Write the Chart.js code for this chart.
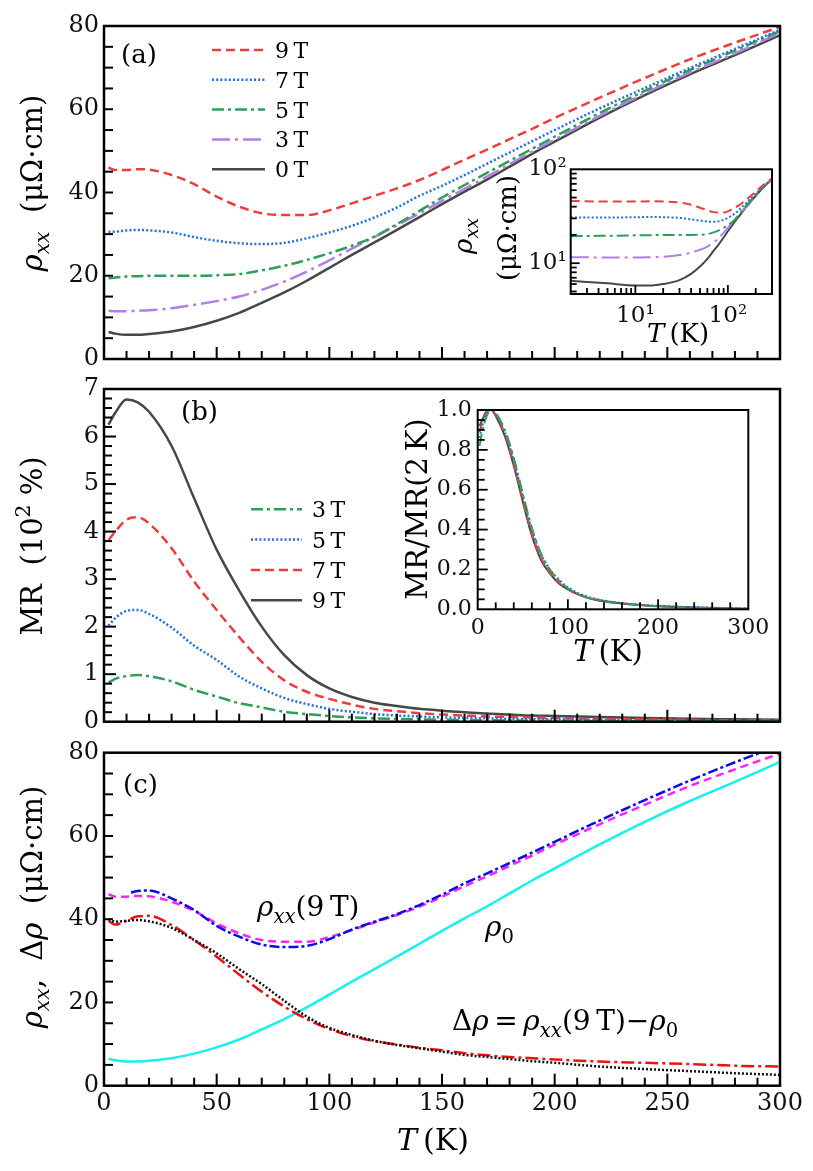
<!DOCTYPE html>
<html>
<head>
<meta charset="utf-8">
<script src="https://cdn.jsdelivr.net/npm/chart.js@4.4.0/dist/chart.umd.min.js"></script>
<style>
html, body { margin: 0; padding: 0; background: #fff; }
#wrap { position: relative; width: 813px; height: 1171px; }
canvas { position: absolute; left: 0; top: 0; }
</style>
</head>
<body>
<div id="wrap">
  <canvas id="pa" width="813" height="1171"></canvas>
  <canvas id="pb" width="813" height="1171"></canvas>
  <canvas id="pc" width="813" height="1171"></canvas>
  <canvas id="ia" width="813" height="1171"></canvas>
  <canvas id="ib" width="813" height="1171"></canvas>
</div>
<script>
// temperature grid (K)
const temps = [2, 5, 10, 15, 20, 30, 40, 50, 60, 70, 80, 90, 100, 110, 120, 130, 140, 150, 160, 170, 180, 190, 200, 220, 240, 260, 280, 300];

// (a) rho_xx in uOhm cm
const rho9T = [46.0, 45.4, 45.4, 45.6, 45.5, 44.2, 42.0, 39.0, 36.6, 35.0, 34.6, 34.6, 35.7, 37.4, 39.2, 41.0, 43.0, 45.4, 47.9, 50.3, 52.8, 55.3, 57.9, 62.8, 67.5, 72.0, 76.0, 79.8];
const rho7T = [30.6, 30.6, 30.9, 31.0, 30.9, 30.4, 29.3, 28.4, 27.8, 27.6, 27.9, 29.0, 30.4, 32.0, 34.0, 36.4, 39.2, 41.6, 44.2, 46.9, 49.6, 52.3, 55.0, 60.2, 65.1, 69.9, 74.5, 79.1];
const rho5T = [19.4, 19.6, 19.8, 19.9, 20.0, 20.0, 20.0, 20.1, 20.4, 21.3, 22.4, 23.8, 25.4, 27.2, 29.4, 32.4, 35.6, 38.8, 41.8, 44.7, 47.6, 50.5, 53.4, 59.1, 64.4, 69.4, 74.1, 78.8];
const rho3T = [11.6, 11.5, 11.5, 11.6, 11.7, 12.2, 13.0, 13.9, 15.0, 16.6, 18.6, 21.0, 23.7, 26.5, 29.3, 32.1, 35.0, 38.0, 40.9, 43.8, 46.8, 49.8, 52.7, 58.4, 63.8, 68.8, 73.4, 78.3];
const rho0T = [6.5, 6.1, 5.8, 5.8, 6.0, 6.6, 7.7, 9.2, 11.1, 13.5, 16.0, 18.8, 21.9, 25.0, 28.0, 31.0, 34.1, 37.2, 40.2, 43.1, 46.2, 49.3, 52.2, 58.0, 63.4, 68.4, 73.0, 77.8];

// (b) MR in units of 10^2 %
const mr9T = [6.25, 6.50, 6.78, 6.72, 6.52, 5.80, 4.70, 3.62, 2.76, 2.00, 1.40, 0.98, 0.70, 0.52, 0.40, 0.33, 0.27, 0.23, 0.20, 0.17, 0.15, 0.13, 0.12, 0.10, 0.08, 0.06, 0.05, 0.04];
const mr7T = [3.82, 4.00, 4.25, 4.30, 4.17, 3.65, 2.95, 2.35, 1.78, 1.26, 0.87, 0.63, 0.48, 0.36, 0.27, 0.22, 0.18, 0.15, 0.13, 0.11, 0.10, 0.09, 0.08, 0.06, 0.05, 0.04, 0.03, 0.03];
const mr5T = [2.02, 2.18, 2.33, 2.35, 2.27, 1.98, 1.60, 1.30, 0.95, 0.70, 0.50, 0.37, 0.27, 0.21, 0.16, 0.13, 0.11, 0.09, 0.08, 0.07, 0.06, 0.05, 0.05, 0.04, 0.03, 0.03, 0.02, 0.02];
const mr3T = [0.82, 0.90, 0.96, 0.98, 0.96, 0.85, 0.67, 0.53, 0.39, 0.30, 0.21, 0.16, 0.12, 0.09, 0.07, 0.06, 0.05, 0.04, 0.035, 0.03, 0.025, 0.02, 0.02, 0.015, 0.012, 0.01, 0.01, 0.01];

// (b) inset: MR / MR(2 K)
const norm9T = [0.92, 0.95, 0.995, 1.0, 0.97, 0.87, 0.72, 0.54, 0.37, 0.25, 0.18, 0.13, 0.10, 0.077, 0.06, 0.048, 0.04, 0.034, 0.029, 0.025, 0.021, 0.018, 0.016, 0.012, 0.009, 0.006, 0.004, 0.003];
const norm7T = [0.89, 0.94, 0.99, 1.0, 0.975, 0.88, 0.73, 0.55, 0.38, 0.26, 0.185, 0.135, 0.10, 0.078, 0.061, 0.05, 0.041, 0.035, 0.03, 0.025, 0.021, 0.018, 0.016, 0.012, 0.009, 0.006, 0.004, 0.003];
const norm5T = [0.86, 0.92, 0.985, 1.0, 0.98, 0.89, 0.75, 0.57, 0.40, 0.28, 0.20, 0.15, 0.11, 0.085, 0.066, 0.053, 0.044, 0.037, 0.031, 0.027, 0.023, 0.02, 0.018, 0.014, 0.011, 0.008, 0.006, 0.005];
const norm3T = [0.82, 0.89, 0.97, 1.0, 0.985, 0.90, 0.76, 0.58, 0.41, 0.28, 0.20, 0.145, 0.105, 0.08, 0.061, 0.049, 0.04, 0.033, 0.028, 0.024, 0.02, 0.017, 0.015, 0.01, 0.008, 0.006, 0.004, 0.003];

// (c) fitted rho_xx(9 T), starts at 12 K
const fitTemps = [12, 15, 20, 30, 40, 50, 60, 70, 80, 90, 100, 110, 120, 130, 140, 150, 160, 170, 180, 190, 200, 220, 240, 260, 280, 300];
const rhoFit9T = [46.4, 46.8, 46.9, 45.0, 42.2, 38.4, 35.8, 33.9, 33.3, 33.6, 35.2, 37.5, 39.4, 41.2, 43.4, 45.9, 48.6, 51.0, 53.5, 56.0, 58.6, 63.7, 68.6, 73.3, 77.7, 81.8];
// (c) delta rho curves
const deltaRhoFit = [39.6, 38.7, 39.6, 40.7, 40.8, 38.6, 35.0, 31.0, 26.7, 22.6, 19.0, 16.0, 13.6, 11.9, 10.7, 9.9, 9.1, 8.5, 7.8, 7.3, 6.9, 6.6, 6.3, 5.8, 5.5, 5.2, 4.8, 4.6];
const deltaRhoData = [40.0, 39.4, 39.6, 39.8, 39.5, 37.9, 35.0, 31.8, 28.0, 24.4, 20.4, 16.6, 13.9, 12.2, 10.8, 9.8, 9.0, 8.2, 7.4, 6.9, 6.4, 5.9, 5.5, 4.6, 4.0, 3.5, 3.0, 2.6];

// tick labels
const rhoTicks = [0, 20, 40, 60, 80];
const mrTicks = [0, 1, 2, 3, 4, 5, 6, 7];
const tempTicks = [0, 50, 100, 150, 200, 250, 300];
const normTicks = [0, 0.2, 0.4, 0.6, 0.8, 1.0];
const insetTempTicks = [0, 100, 200, 300];
const logTicks = [10, 100];

const FONT = '"DejaVu Serif", serif';

function rich(ctx, parts, x, y, size, align, rot) {
  ctx.save();
  ctx.translate(x, y);
  if (rot) ctx.rotate(rot);
  const fontOf = p => (p.it ? 'italic ' : '') + ((p.sub || p.sup) ? size * 0.7 : size) + 'px ' + FONT;
  let w = 0;
  parts.forEach(p => { ctx.font = fontOf(p); p.w = ctx.measureText(p.t).width; w += p.w; });
  let cx = align === 'center' ? -w / 2 : (align === 'right' ? -w : 0);
  ctx.textBaseline = 'alphabetic';
  ctx.textAlign = 'left';
  ctx.fillStyle = '#000';
  parts.forEach(p => {
    ctx.font = fontOf(p);
    const dy = p.sub ? size * 0.24 : (p.sup ? -size * 0.42 : 0);
    ctx.fillText(p.t, cx, dy);
    cx += p.w;
  });
  ctx.restore();
}

const deco = {
  id: 'deco',
  afterDraw(chart, args, o) {
    const ctx = chart.ctx, a = chart.chartArea;
    ctx.save();
    ctx.strokeStyle = '#000';
    (o.ticks || []).forEach(t => {
      const s = chart.scales[t.axis];
      ctx.lineWidth = t.width || 2;
      [[t.major, t.majorLen], [t.minor, t.minorLen]].forEach(([vals, len]) => {
        (vals || []).forEach(v => {
          const p = s.getPixelForValue(v);
          ctx.beginPath();
          if (t.axis === 'x') { ctx.moveTo(p, a.bottom); ctx.lineTo(p, a.bottom - len); }
          else { ctx.moveTo(a.left, p); ctx.lineTo(a.left + len, p); }
          ctx.stroke();
        });
      });
    });
    ctx.lineWidth = o.frame || 2.5;
    ctx.strokeRect(a.left, a.top, a.right - a.left, a.bottom - a.top);
    (o.legend || []).forEach(l => {
      const ds = chart.data.datasets[l.index];
      ctx.strokeStyle = ds.borderColor;
      ctx.lineWidth = ds.borderWidth;
      ctx.setLineDash(ds.borderDash || []);
      ctx.beginPath(); ctx.moveTo(l.x0, l.y); ctx.lineTo(l.x1, l.y); ctx.stroke();
      ctx.setLineDash([]);
      rich(ctx, [{ t: ds.label }], l.x1 + 10, l.y + 8, l.size, 'left', 0);
    });
    (o.texts || []).forEach(t => rich(ctx, t.parts, t.x, t.y, t.size, t.align || 'left', t.rot));
    ctx.restore();
  }
};
Chart.register(deco);

const pts = (xs, ys) => xs.map((x, i) => ({ x: x, y: ys[i] }));
function line(label, xs, ys, color, dash, width) {
  return { label: label, data: pts(xs, ys), borderColor: color, borderDash: dash, borderWidth: width,
    pointRadius: 0, fill: false, cubicInterpolationMode: 'monotone' };
}
function pad(L, T, R, B, yw, xh) {
  return { padding: { left: L - yw, top: T, right: 813 - R, bottom: 1171 - B - xh } };
}
function scale(type, min, max, tickVals, show, size, padding, fit, fmt) {
  return {
    type: type, min: min, max: max,
    grid: { display: false, drawTicks: false }, border: { display: false },
    afterBuildTicks: s => { s.ticks = tickVals.map(v => ({ value: v })); },
    ticks: { display: show, autoSkip: false, maxRotation: 0, padding: padding, color: '#111',
      font: { family: FONT, size: size }, callback: fmt || (v => String(v)) },
    afterFit: fit
  };
}
const range = (a, b, s) => { const r = []; for (let v = a; v <= b + 1e-9; v += s) r.push(+v.toFixed(3)); return r; };
const minus = (arr, skip) => arr.filter(v => !skip.some(k => Math.abs(k - v) < 1e-6));
const tMinor = minus(range(10, 290, 10), tempTicks);
const tMajor = [50, 100, 150, 200, 250];
const sup = { 10: '10\u00b9', 100: '10\u00b2' };

const RED = '#f03c3c', BLUE = '#1f6fe5', GREEN = '#2e9e58', PURPLE = '#b27ee8', GRAY = '#474747';
const D_RED = [9, 5], D_BLUE = [2, 2.2], D_GREEN = [12, 4, 3, 4], D_PURPLE = [18, 5, 3, 5];
const common = { responsive: false, animation: false, events: [] };

// panel (a)
new Chart(document.getElementById('pa'), {
  type: 'line',
  data: { datasets: [
    line('9\u2009T', temps, rho9T, RED, D_RED, 2.5),
    line('7\u2009T', temps, rho7T, BLUE, D_BLUE, 2.5),
    line('5\u2009T', temps, rho5T, GREEN, D_GREEN, 2.5),
    line('3\u2009T', temps, rho3T, PURPLE, D_PURPLE, 2.5),
    line('0\u2009T', temps, rho0T, GRAY, [], 2.5)
  ] },
  options: Object.assign({}, common, {
    layout: pad(104, 26, 780, 359, 100, 0),
    plugins: { legend: { display: false }, tooltip: { enabled: false },
      deco: {
        ticks: [
          { axis: 'x', major: tMajor, minor: tMinor, majorLen: 12, minorLen: 8 },
          { axis: 'y', major: [20, 40, 60], minor: minus(range(5, 75, 5), rhoTicks), majorLen: 9, minorLen: 9 }
        ],
        legend: [0, 1, 2, 3, 4].map(i => ({ index: i, x0: 212, x1: 265, y: 50 + i * 29.8, size: 22 })),
        texts: [
          { parts: [{ t: '(a)' }], x: 121, y: 63, size: 26 },
          { parts: [{ t: '\u03c1', it: 1 }, { t: 'xx', it: 1, sub: 1 }, { t: '  (\u03bc\u03a9\u00b7cm)' }], x: 42, y: 183, size: 29, align: 'center', rot: -Math.PI / 2 }
        ]
      } },
    scales: {
      x: scale('linear', 0, 300, tempTicks, false, 24, 4, s => { s.height = 0; }),
      y: scale('linear', 0, 80, rhoTicks, true, 24, 5, s => { s.width = 100; })
    }
  })
});

// panel (b)
new Chart(document.getElementById('pb'), {
  type: 'line',
  data: { datasets: [
    line('3\u2009T', temps, mr3T, GREEN, D_GREEN, 2.5),
    line('5\u2009T', temps, mr5T, BLUE, D_BLUE, 2.5),
    line('7\u2009T', temps, mr7T, RED, D_RED, 2.5),
    line('9\u2009T', temps, mr9T, GRAY, [], 2.5)
  ] },
  options: Object.assign({}, common, {
    layout: pad(104, 389, 780, 721.7, 100, 0),
    plugins: { legend: { display: false }, tooltip: { enabled: false },
      deco: {
        ticks: [
          { axis: 'x', major: tMajor, minor: tMinor, majorLen: 12, minorLen: 8 },
          { axis: 'y', major: [1, 2, 3, 4, 5, 6], minor: minus(range(0.2, 6.8, 0.2), mrTicks), majorLen: 12, minorLen: 8 }
        ],
        legend: [0, 1, 2, 3].map(i => ({ index: i, x0: 251, x1: 302, y: 509.3 + i * 30.3, size: 22 })),
        texts: [
          { parts: [{ t: '(b)' }], x: 181, y: 420, size: 26 },
          { parts: [{ t: 'MR  (10' }, { t: '2', sup: 1 }, { t: ' %)' }], x: 42, y: 546, size: 29, align: 'center', rot: -Math.PI / 2 }
        ]
      } },
    scales: {
      x: scale('linear', 0, 300, tempTicks, false, 24, 4, s => { s.height = 0; }),
      y: scale('linear', 0, 7, mrTicks, true, 24, 5, s => { s.width = 100; })
    }
  })
});

// panel (c)
new Chart(document.getElementById('pc'), {
  type: 'line',
  data: { datasets: [
    line('deltaRhoData', temps, deltaRhoData, '#111111', [2, 2], 2.5),
    line('deltaRhoFit', temps, deltaRhoFit, '#ee1111', [13, 4, 3, 4], 2.5),
    line('rhoFit9T', fitTemps, rhoFit9T, '#0a0aee', [10, 3, 3, 3], 2.5),
    line('rho9T', temps, rho9T, '#ff22ff', [8, 5], 2.5),
    line('rho0', temps, rho0T, '#18f0f0', [], 2.5)
  ] },
  options: Object.assign({}, common, {
    layout: pad(104, 752.7, 780, 1085.7, 100, 40),
    plugins: { legend: { display: false }, tooltip: { enabled: false },
      deco: {
        ticks: [
          { axis: 'x', major: tMajor, minor: tMinor, majorLen: 12, minorLen: 8 },
          { axis: 'y', major: [20, 40, 60], minor: minus(range(5, 75, 5), rhoTicks), majorLen: 9, minorLen: 9 }
        ],
        texts: [
          { parts: [{ t: '(c)' }], x: 123, y: 793, size: 26 },
          { parts: [{ t: '\u03c1', it: 1 }, { t: 'xx', it: 1, sub: 1 }, { t: ',  \u0394' }, { t: '\u03c1', it: 1 }, { t: '  (\u03bc\u03a9\u00b7cm)' }], x: 42, y: 907, size: 29, align: 'center', rot: -Math.PI / 2 },
          { parts: [{ t: 'T', it: 1 }, { t: '\u2009(K)' }], x: 433, y: 1150, size: 30, align: 'center' },
          { parts: [{ t: '\u03c1', it: 1 }, { t: 'xx', it: 1, sub: 1 }, { t: '(9\u2009T)' }], x: 257, y: 916, size: 28 },
          { parts: [{ t: '\u03c1', it: 1 }, { t: '0', sub: 1 }], x: 485, y: 936, size: 28 },
          { parts: [{ t: '\u0394' }, { t: '\u03c1', it: 1 }, { t: '\u2009=\u2009' }, { t: '\u03c1', it: 1 }, { t: 'xx', it: 1, sub: 1 }, { t: '(9\u2009T)\u2212' }, { t: '\u03c1', it: 1 }, { t: '0', sub: 1 }], x: 452, y: 1030, size: 28 }
        ]
      } },
    scales: {
      x: scale('linear', 0, 300, tempTicks, true, 24, 4, s => { s.height = 40; }),
      y: scale('linear', 0, 80, rhoTicks, true, 24, 5, s => { s.width = 100; })
    }
  })
});

// inset of (a): log-log
const logMinorX = [3, 4, 5, 6, 7, 8, 9, 20, 30, 40, 50, 60, 70, 80, 90, 200];
const logMinorY = [5, 6, 7, 8, 9, 20, 30, 40, 50, 60, 70, 80, 90];
new Chart(document.getElementById('ia'), {
  type: 'line',
  data: { datasets: [
    line('9 T', temps, rho9T, RED, D_RED, 2),
    line('7 T', temps, rho7T, BLUE, D_BLUE, 2),
    line('5 T', temps, rho5T, GREEN, D_GREEN, 2),
    line('3 T', temps, rho3T, PURPLE, D_PURPLE, 2),
    line('0 T', temps, rho0T, GRAY, [], 2)
  ] },
  options: Object.assign({}, common, {
    layout: pad(570.7, 169.3, 772, 294, 60, 35),
    plugins: { legend: { display: false }, tooltip: { enabled: false },
      deco: {
        frame: 2,
        ticks: [
          { axis: 'x', major: logTicks, minor: logMinorX, majorLen: 9, minorLen: 6, width: 1.8 },
          { axis: 'y', major: [10], minor: logMinorY, majorLen: 9, minorLen: 6, width: 1.8 }
        ],
        texts: [
          { parts: [{ t: '\u03c1', it: 1 }, { t: 'xx', it: 1, sub: 1 }], x: 472, y: 236, size: 26, align: 'center', rot: -Math.PI / 2 },
          { parts: [{ t: '(\u03bc\u03a9\u00b7cm)' }], x: 516, y: 228, size: 26, align: 'center', rot: -Math.PI / 2 },
          { parts: [{ t: 'T', it: 1 }, { t: '\u2009(K)' }], x: 678, y: 342, size: 26, align: 'center' }
        ]
      } },
    scales: {
      x: scale('logarithmic', 2, 300, logTicks, true, 23, 8, s => { s.height = 35; }, v => sup[v] || ''),
      y: scale('logarithmic', 4.7, 100, logTicks, true, 23, 4, s => { s.width = 60; }, v => sup[v] || '')
    }
  })
});

// inset of (b)
new Chart(document.getElementById('ib'), {
  type: 'line',
  data: { datasets: [
    line('3 T', temps, norm3T, GREEN, D_GREEN, 2),
    line('5 T', temps, norm5T, BLUE, D_BLUE, 2),
    line('7 T', temps, norm7T, RED, D_RED, 2),
    line('9 T', temps, norm9T, GRAY, [], 2)
  ] },
  options: Object.assign({}, common, {
    layout: pad(477.7, 410, 748.3, 609.3, 70, 30),
    plugins: { legend: { display: false }, tooltip: { enabled: false },
      deco: {
        frame: 2,
        ticks: [
          { axis: 'x', major: [100, 200], minor: [20, 40, 60, 80, 120, 140, 160, 180, 220, 240, 260, 280], majorLen: 10, minorLen: 7, width: 1.8 },
          { axis: 'y', major: [0.2, 0.4, 0.6, 0.8], minor: minus(range(0.05, 0.95, 0.05), normTicks), majorLen: 10, minorLen: 7, width: 1.8 }
        ],
        texts: [
          { parts: [{ t: 'MR/MR(2\u2009K)' }], x: 427, y: 509, size: 29, align: 'center', rot: -Math.PI / 2 },
          { parts: [{ t: 'T', it: 1 }, { t: '\u2009(K)' }], x: 608, y: 661, size: 29, align: 'center' }
        ]
      } },
    scales: {
      x: scale('linear', 0, 300, insetTempTicks, true, 22, 6, s => { s.height = 30; }),
      y: scale('linear', 0, 1, normTicks, true, 22, 6, s => { s.width = 70; }, v => v.toFixed(1))
    }
  })
});
</script>
</body>
</html>
